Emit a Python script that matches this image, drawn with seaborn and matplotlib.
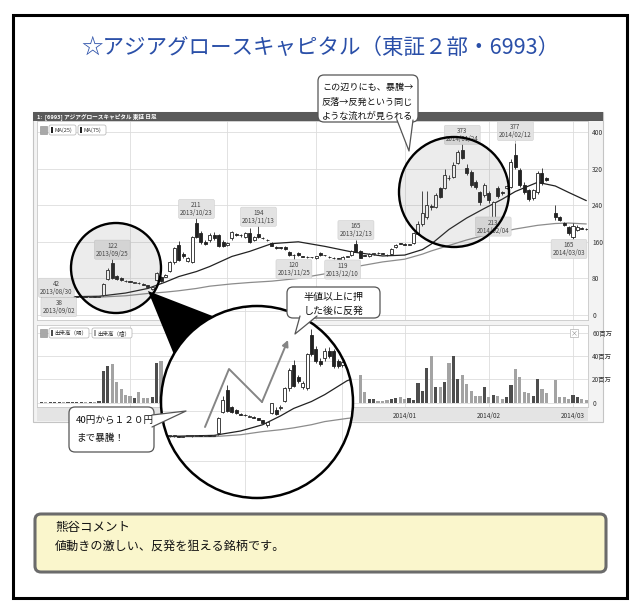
import numpy as np
import pandas as pd
import matplotlib
matplotlib.use("Agg")
import matplotlib.pyplot as plt
from matplotlib.patches import Rectangle, FancyBboxPatch, Circle, Polygon
import seaborn as sns

sns.set_theme(style="white")
plt.rcParams["font.family"] = ["Noto Sans CJK JP", "DejaVu Sans"]

# ---------------- data ----------------
holidays = ["2013-09-16", "2013-09-23", "2013-10-14", "2013-11-04", "2013-12-23",
            "2013-12-31", "2014-01-01", "2014-01-02", "2014-01-03", "2014-01-13",
            "2014-02-11"]
dates = pd.bdate_range("2013-08-30", "2014-03-06", freq="C", holidays=holidays)

opens = [41, 40, 39, 40, 40, 40, 39, 40, 40, 40, 41, 40, 41, 40,
         44, 79, 113, 86, 81, 75,
         74, 71, 71, 68, 65, 57, 77, 82, 84, 96, 116, 153, 134, 118, 116, 201, 179, 160, 164, 175, 175, 160,
         153, 168, 177, 174, 170, 179, 165, 177, 169, 165, 158, 149, 148, 149, 138, 132, 136, 128, 127, 126,
         124, 135, 131, 127, 125, 124, 120, 127, 131, 155, 140, 131, 129, 134, 136, 135, 132, 133, 149, 157,
         155, 154, 157, 176, 200, 214, 238, 236, 277, 277, 300, 302, 332, 361, 321, 313, 291, 269, 262,
         267, 214, 277, 268, 277, 280, 350, 317, 284, 273, 256, 269, 310, 299, None, 223, 214, 201, 192,
         170, 186, 191, 189]
highs = [42, 41, 40, 40, 41, 40, 40, 41, 40, 41, 41, 41, 41, 42,
         70, 103, 122, 88, 83, 76,
         75, 73, 72, 69, 66, 63, 93, 86, 89, 118, 148, 162, 138, 127, 172, 211, 183, 165, 180, 182, 178, 163,
         160, 183, 180, 177, 181, 190, 172, 194, 170, 166, 160, 150, 149, 150, 140, 134, 137, 129, 128, 127,
         130, 137, 132, 128, 126, 125, 128, 130, 141, 165, 142, 132, 135, 135, 137, 136, 133, 146, 155, 158,
         157, 156, 182, 205, 270, 272, 242, 266, 280, 320, 305, 335, 360, 373, 330, 318, 295, 272, 288,
         272, 250, 282, 272, 285, 340, 377, 322, 290, 276, 276, 315, 321, 302, None, 240, 216, 203, 195,
         201, 196, 193, 190]
lows = [40, 38, 39, 39, 39, 39, 39, 40, 39, 40, 40, 40, 40, 40,
        42, 76, 78, 77, 75, 73,
        72, 70, 68, 65, 60, 55, 75, 73, 82, 94, 112, 118, 125, 115, 114, 168, 156, 152, 160, 165, 148, 148,
        150, 165, 172, 171, 168, 158, 162, 168, 166, 162, 150, 145, 144, 143, 130, 120, 130, 126, 125, 125,
        123, 130, 130, 125, 123, 122, 119, 126, 130, 137, 124, 128, 127, 132, 134, 133, 130, 132, 147, 155,
        152, 153, 155, 174, 195, 210, 230, 233, 255, 275, 296, 300, 330, 340, 305, 280, 275, 240, 258,
        245, 213, 255, 262, 275, 278, 320, 280, 265, 250, 252, 265, 285, 293, None, 208, 205, 195, 175,
        165, 183, 188, 186]
closes = [41, 39, 40, 40, 40, 39, 40, 40, 40, 41, 40, 41, 40, 41,
          68, 98, 80, 78, 76, 74,
          73, 72, 69, 66, 61, 62, 92, 75, 87, 116, 146, 120, 128, 125, 170, 170, 160, 155, 175, 168, 151, 151,
          158, 181, 174, 175, 179, 160, 170, 170, 168, 164, 151, 147, 146, 144, 131, 131, 132, 127, 126, 126,
          129, 131, 131, 126, 124, 123, 127, 129, 140, 138, 125, 130, 133, 134, 135, 134, 131, 144, 153, 156,
          154, 155, 179, 200, 223, 240, 236, 262, 258, 306, 299, 328, 356, 343, 310, 284, 280, 247, 284,
          251, 247, 260, 266, 282, 334, 324, 284, 269, 254, 273, 310, 288, 295, None, 214, 208, 197, 179,
          195, 192, 189, 187]

# volume in millions of shares (None = hidden behind the magnifier)
volumes = ([0.6, 0.4, 0.5, 0.3, 0.5, 0.4, 0.6, 0.3, 0.5, 0.8, 0.4, 0.6, 0.5, 0.9,
            27, 31, 33, 18, 12, 6.4, 6, 4, 8.7, 4, 4, 5, 34, 36]
           + [None] * 44
           + [23.8, 9.3, 2.9, 2.9, 1.5, 1.5, 2.0, 2.9, 3.5, 4.3, 2.9, 3.8, 2.0, 16.5, 10, 30, 40,
              13, 13.6, 18, 34, 40, 20, 24, 16, 10, 5.5, 5.5, 13, 5, 6.4, 5.5, 2.9, 4.3, 15, 28.7,
              21.7, 9.3, 7.8, 5.5, 20, 11.3, 7.8, 0, 19.4, 4.3, 4.3, 2.9, 6.4, 5, 2.6, 2.0])

# moving averages sampled along the drawn curves
ma_idx = [0, 13, 19, 24, 28, 31, 35, 38, 43, 47, 52, 58, 64, 70, 77, 82, 86, 88, 92, 96,
          100, 104, 107, 112, 116, 119, 123]
ma25 = [39, 41, 48, 58, 72, 84, 95, 106, 128, 139, 156, 160, 150, 138, 129, 131, 143, 155, 187,
        212, 233, 253, 270, 290, 282, 268, 250]
ma75 = [39, 39, 42, 47, 50, 53, 58, 63, 68, 71, 74, 80, 90, 104, 116, 122, 133, 140, 152, 164,
        174, 182, 188, 196, 200, 201, 199]

high_marks = [0, 16, 35, 49, 71, 95, 107]
low_marks = [1, 57, 68, 102, 120]

price_ticks = [0, 80, 160, 240, 320, 400]
vol_ticks = [0, 20, 40, 60]
vol_tick_labels = ["0", "20百万", "40百万", "60百万"]
first_labelled_month = "2014-01"

title = "☆アジアグロースキャピタル（東証２部・6993）"
comment_head = "熊谷コメント"
comment_body = "値動きの激しい、反発を狙える銘柄です。"

# ---------------- layout helpers ----------------
W, H = 640, 610
INK = "#222222"
PX0, PXD = 41.4, 4.43      # pixel x of first day, pixels per trading day
PY0, PYS = 315, 0.4575     # pixel y of price 0, pixels per yen
VY0, VYS = 402.5, 23.3 / 20

o = np.array(opens, dtype=float)
h = np.array(highs, dtype=float)
l = np.array(lows, dtype=float)
c = np.array(closes, dtype=float)
v = np.array(volumes, dtype=float)
x = np.arange(len(dates))
up = c >= o

# month gridlines (the chart starts on 8/30, so the September start is not marked)
month_pos = [i for i in range(5, len(dates)) if dates[i].month != dates[i - 1].month]
# months before January sit behind the magnifier and the callout
month_lab = [dates[i].strftime("%Y/%m") if dates[i] >= pd.Timestamp(first_labelled_month) else ""
             for i in month_pos]


def rect(x0, y0, x1, y1):
    return [x0 / W, 1 - y1 / H, (x1 - x0) / W, (y1 - y0) / H]


def px_axes(z, name):
    a = fig.add_axes([0, 0, 1, 1], label=name)
    a.set_xlim(0, W)
    a.set_ylim(H, 0)
    a.axis("off")
    a.patch.set_visible(False)
    a.set_zorder(z)
    return a


def draw_candles(a):
    ok = ~np.isnan(o)
    a.vlines(x[ok], l[ok], h[ok], color=INK, lw=0.6, zorder=3)
    body = np.maximum(np.abs(c - o), 0.8)
    bot = np.minimum(o, c)
    u, d = ok & up, ok & ~up
    a.bar(x[u], body[u], bottom=bot[u], width=0.68, color="white",
          edgecolor=INK, linewidth=0.6, zorder=4)
    a.bar(x[d], body[d], bottom=bot[d], width=0.68, color=INK,
          edgecolor=INK, linewidth=0.6, zorder=4)
    sns.lineplot(x=ma_idx, y=ma75, ax=a, color="#8c8c8c", lw=0.9, zorder=2)
    sns.lineplot(x=ma_idx, y=ma25, ax=a, color=INK, lw=0.9, zorder=2)


def callout(a, box, b1, tip, b2, lines, fs, ha="center", tx=None, ty=None):
    x0, y0, x1, y1 = box
    a.add_patch(FancyBboxPatch((x0, y0), x1 - x0, y1 - y0,
                               boxstyle="round,pad=0,rounding_size=6",
                               fc="white", ec="#555555", lw=0.9, zorder=5))
    a.add_patch(Polygon([b1, tip, b2], closed=True, fc="white", ec="none", zorder=6))
    a.plot([b1[0], tip[0], b2[0]], [b1[1], tip[1], b2[1]], color="#555555", lw=0.9, zorder=7)
    for k, line in enumerate(lines):
        a.text(tx, ty[k], line, fontsize=fs, ha=ha, va="center", color="#111111", zorder=8)


fig = plt.figure(figsize=(6.4, 6.1), dpi=100)

# ---------------- background layer ----------------
bg = px_axes(0, "bg")
bg.add_patch(Rectangle((13, 15), 614, 583, fc="white", ec="black", lw=2.2))
bg.text(320, 48, title, fontsize=15.5, color="#2a4fa8", ha="center", va="center")
bg.add_patch(Rectangle((33, 112), 570, 310, fc="#f3f3f3", ec="#c4c4c4", lw=0.8))
bg.add_patch(Rectangle((33, 112), 570, 9, fc="#5a5a5a", ec="none"))
bg.text(37, 116.8, "1:  [6993] アジアグロースキャピタル 東証 日足", fontsize=4.1,
        color="white", fontweight="bold", va="center")
bg.add_patch(Rectangle((37, 407), 551, 14, fc="#e4e4e4", ec="none"))
bg.add_patch(FancyBboxPatch((35, 514), 571, 58, boxstyle="round,pad=0,rounding_size=6",
                            fc="#faf6cc", ec="#6b6b6b", lw=2.2))
bg.text(55, 527, comment_head, fontsize=9, va="center", color="#111111")
bg.text(55, 546, comment_body, fontsize=8.7, va="center", color="#111111")

# ---------------- price panel ----------------
ax = fig.add_axes(rect(37, 121, 588, 320))
ax.set_zorder(1)
draw_candles(ax)
ax.set_xlim((37 - PX0) / PXD, (588 - PX0) / PXD)
ax.set_ylim((PY0 - 320) / PYS, (PY0 - 121) / PYS)
ax.set_yticks(price_ticks)
ax.set_xticks(month_pos)
ax.yaxis.tick_right()
ax.tick_params(axis="y", labelsize=4.8, colors="#333333", length=0, pad=3)
ax.tick_params(axis="x", length=0, labelbottom=False)
ax.grid(True, color="#dddddd", lw=0.6)
ax.set_axisbelow(True)
ax.set_xlabel("")
ax.set_ylabel("")
for s in ax.spines.values():
    s.set_color("#c8c8c8")
    s.set_linewidth(0.6)

shift = {0: (15, -8), 1: (13, 9.5), 107: (0, -11.5), 120: (-4, 9.5)}
for i in high_marks + low_marks:
    is_high = i in high_marks
    val = h[i] if is_high else l[i]
    dx, dy = shift.get(i, (0, -9.5 if is_high else 9))
    ax.annotate(f"{val:.0f}\n{dates[i]:%Y/%m/%d}", xy=(i, val),
                xytext=(dx * 0.72, -dy * 0.72), textcoords="offset points",
                ha="center", va="center", fontsize=4.5, color="#444444",
                linespacing=1.0, zorder=6,
                bbox=dict(boxstyle="round,pad=0.25", fc="#e3e3e3", ec="#cfcfcf", lw=0.4),
                arrowprops=dict(arrowstyle="-", color="#9a9a9a", lw=0.5,
                                shrinkA=0, shrinkB=0))

# ---------------- volume panel ----------------
vx = fig.add_axes(rect(37, 325, 588, 407))
vx.set_zorder(1)
okv = ~np.isnan(v)
vcol = np.where(up, "#4d4d4d", "#a3a3a3")
vx.bar(x[okv], v[okv], width=0.72, color=vcol[okv], linewidth=0, zorder=3)
vx.set_xlim((37 - PX0) / PXD, (588 - PX0) / PXD)
vx.set_ylim(-(407 - VY0) / VYS, (VY0 - 325) / VYS)
vx.set_yticks(vol_ticks)
vx.set_yticklabels(vol_tick_labels)
vx.set_xticks(month_pos)
vx.set_xticklabels(month_lab)
vx.yaxis.tick_right()
vx.tick_params(axis="y", labelsize=4.6, colors="#333333", length=0, pad=3)
vx.tick_params(axis="x", labelsize=4.6, colors="#333333", length=0, pad=3.5)
vx.grid(True, color="#dddddd", lw=0.6)
vx.set_axisbelow(True)
for s in vx.spines.values():
    s.set_color("#c8c8c8")
    s.set_linewidth(0.6)

# ---------------- overlay: legends, circles, wedge ----------------
ov = px_axes(2, "ov")


def tag(x0, y0, x1, y1, text, sw):
    ov.add_patch(FancyBboxPatch((x0, y0), x1 - x0, y1 - y0,
                                boxstyle="round,pad=0,rounding_size=2",
                                fc="white", ec="#b0b0b0", lw=0.5))
    ov.add_patch(Rectangle((x0 + 2, y0 + 2), 2, y1 - y0 - 4, fc=sw, ec="none"))
    ov.text(x0 + 5.5, (y0 + y1) / 2, text, fontsize=4.0, va="center", color="#333333")


for yy in (126, 329):
    ov.add_patch(Rectangle((40, yy), 7, 8, fc="#a8a8a8", ec="#8a8a8a", lw=0.4))
tag(49, 125, 76, 135, "MA(25)", INK)
tag(78, 125, 106, 135, "MA(75)", INK)
tag(49, 328, 89, 338, "出来高（陽）", "#4d4d4d")
tag(92, 328, 132, 338, "出来高（陰）", "#a3a3a3")
ov.add_patch(Rectangle((570, 329), 8, 8, fc="white", ec="#b0b0b0", lw=0.5))
ov.text(574, 333, "×", fontsize=5, ha="center", va="center", color="#888888")

for cx, cy, r in [(116, 268, 45), (454, 192, 55)]:
    ov.add_patch(Circle((cx, cy), r, fc=(0.45, 0.45, 0.45, 0.13), ec="black", lw=1.7))
ov.add_patch(Polygon([(148, 291), (259, 334), (193, 401)], closed=True, fc="black", ec="none"))

# ---------------- magnifier ----------------
MCX, MCY, MR = 257, 402, 96
mag = fig.add_axes(rect(MCX - MR, MCY - MR, MCX + MR, MCY + MR), label="mag")
mag.set_zorder(3)
mag.axis("off")
mag.add_patch(Circle((0.5, 0.5), 0.5, transform=mag.transAxes, fc="white", ec="none", zorder=0))
for p in price_ticks:
    mag.axhline(p, color="#dddddd", lw=0.6, zorder=1)
for m in month_pos:
    mag.axvline(m, color="#dddddd", lw=0.6, zorder=1)
draw_candles(mag)
mag.set_xlim((MCX - MR - 115 - PX0) / PXD, (MCX + MR - 115 - PX0) / PXD)
mag.set_ylim(40 + (436 - (MCY + MR)) / 0.627, 40 + (436 - (MCY - MR)) / 0.627)
mag.set_xlabel("")
mag.set_ylabel("")
clip = Circle((0.5, 0.5), 0.5, transform=mag.transAxes)
for art in mag.get_children():
    art.set_clip_path(clip)

# ---------------- top layer: ring, arrows, callouts ----------------
top = px_axes(4, "top")
top.add_patch(Circle((MCX, MCY), MR, fc="none", ec="black", lw=1.8))
top.plot([205, 229, 262], [427, 369, 402], color="#858585", lw=1.4, solid_capstyle="round")
top.annotate("", xy=(288, 340), xytext=(262, 402),
             arrowprops=dict(arrowstyle="-|>", color="#858585", lw=1.4,
                             mutation_scale=9, shrinkA=0, shrinkB=0))

callout(top, (318, 75, 418, 122), (397, 120), (409, 151), (413, 120),
        ["この辺りにも、暴騰→", "反落→反発という同じ", "ような流れが見られる"], 6.6,
        ha="left", tx=322, ty=[87, 102, 116])
callout(top, (287, 287, 380, 318), (300, 316), (295, 334), (317, 316),
        ["半値以上に押", "した後に反発"], 7.2, tx=334, ty=[297, 311])
callout(top, (69, 407, 154, 452), (152, 415), (186, 411), (152, 427),
        ["40円から１２０円", "まで暴騰！"], 6.9, ha="left", tx=76, ty=[420, 438])

fig.savefig("out.png", dpi=100)
